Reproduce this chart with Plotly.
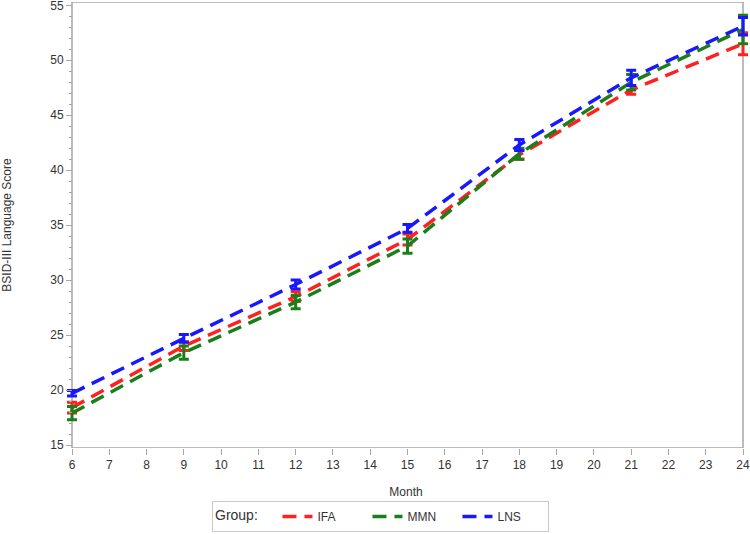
import plotly.graph_objects as go

months = [6, 9, 12, 15, 18, 21, 24]
month_ticks = list(range(6, 25))
groups = ["IFA", "MMN", "LNS"]
colors = {"IFA": "#ff2020", "MMN": "#1a7f1a", "LNS": "#1818ff"}

ifa_mean = [18.4, 24.0, 28.5, 33.7, 41.4, 47.3, 51.5]
ifa_err = [0.5, 0.4, 0.45, 0.5, 0.4, 0.4, 1.0]
mmn_mean = [17.9, 23.4, 28.0, 33.1, 41.5, 48.0, 52.8]
mmn_err = [0.6, 0.6, 0.6, 0.65, 0.5, 0.7, 1.3]
lns_mean = [19.7, 24.7, 29.6, 34.7, 42.3, 48.4, 53.1]
lns_err = [0.25, 0.35, 0.4, 0.35, 0.5, 0.7, 0.8]

data = {"IFA": (ifa_mean, ifa_err), "MMN": (mmn_mean, mmn_err), "LNS": (lns_mean, lns_err)}

# layout geometry
L, R, T, B = 62, 0, 2, 86
W = 750 - L - R
H = 534 - T - B
ax_left_px, ax_right_px = 72, 743
px_per_unit = (ax_right_px - ax_left_px) / (month_ticks[-1] - month_ticks[0])
data_range = [month_ticks[0] - (ax_left_px - L) / px_per_unit,
              month_ticks[-1] + (750 - R - ax_right_px) / px_per_unit]
y_range = [14.727, 55.3]

fig = go.Figure()
for g in groups:
    m, e = data[g]
    fig.add_trace(go.Scatter(
        x=months, y=m, mode="lines", name=g,
        line=dict(color=colors[g], width=3.5, dash="14px,8px"),
        error_y=dict(type="data", array=e, visible=True, color=colors[g], thickness=3, width=5),
        cliponaxis=False,
    ))

# frame of the plotting region (x from first to last month tick)
fig.add_shape(type="rect", xref="x", yref="y",
              x0=month_ticks[0], x1=month_ticks[-1], y0=y_range[0], y1=y_range[1],
              line=dict(color="#a6a6a6", width=1.5), layer="below")

tc = "#333333"
fam = "Liberation Sans, Arial, sans-serif"
fig.update_layout(
    width=750, height=534,
    margin=dict(l=L, r=R, t=T, b=B, autoexpand=False),
    plot_bgcolor="white", paper_bgcolor="white",
    font=dict(family=fam, size=12, color=tc),
    showlegend=True,
    legend=dict(
        orientation="h", x=(212 - L) / W, xanchor="left", y=(448 - 532) / H, yanchor="bottom",
        bordercolor="#c8c8c8", borderwidth=1,
        title=dict(text="Group:   ", side="left"),
        font=dict(family=fam, size=12, color=tc),
        itemwidth=30, entrywidth=45,
    ),
    xaxis=dict(
        domain=[0, 1], range=data_range,
        tickmode="array", tickvals=month_ticks, ticktext=[str(v) for v in month_ticks],
        showgrid=False, zeroline=False, automargin=False, showline=False,
        ticklabeloverflow="allow",
        ticks="outside", ticklen=6, tickcolor="#a6a6a6", tickwidth=1,
        title=dict(text="Month", font=dict(size=12, color=tc), standoff=16),
    ),
    yaxis=dict(
        range=y_range, tickmode="linear", tick0=15, dtick=5,
        anchor="free", position=(ax_left_px - L) / W,
        showgrid=False, zeroline=False, automargin=False, showline=False,
        ticklabeloverflow="allow",
        ticks="outside", ticklen=6, tickcolor="#a6a6a6",
        minor=dict(dtick=1, ticks="outside", ticklen=3, tickcolor="#a6a6a6"),
        title=dict(text="BSID-III Language Score", font=dict(size=12, color=tc), standoff=36),
    ),
)
fig.write_html("out.html", config={"displayModeBar": False},
               post_script="document.body.style.margin='0';")
